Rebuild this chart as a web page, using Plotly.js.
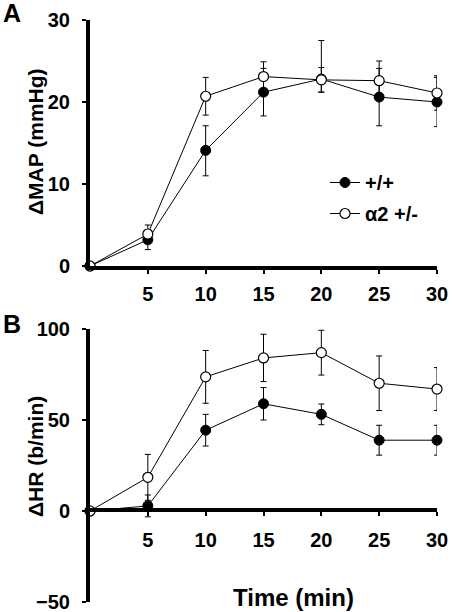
<!DOCTYPE html>
<html>
<head>
<meta charset="utf-8">
<script src="https://cdn.plot.ly/plotly-3.0.1.min.js"></script>
<style>html,body{margin:0;padding:0;background:#fff;}#chart{width:452px;height:612px;}</style>
</head>
<body>
<div id="chart"></div>
<script>
// Data
const time = [0, 5, 10, 15, 20, 25, 30];
const xTickVals = [5, 10, 15, 20, 25, 30];

// Panel A: ΔMAP (mmHg)
const mapWT = [0, 3.2, 14.1, 21.2, 22.8, 20.6, 20.0];
const mapWTErrPlus = [0, 1.2, 3.0, 2.9, 4.7, 3.5, 3.0];
const mapWTErrMinus = [0, 1.2, 3.1, 2.9, 1.6, 3.5, 3.0];
const mapHet = [0, 3.9, 20.7, 23.1, 22.7, 22.6, 21.1];
const mapHetErr = [0, 1.1, 2.3, 1.8, 1.5, 2.4, 2.1];
const mapTickVals = [0, 10, 20, 30];

// Panel B: ΔHR (b/min)
const hrWT = [0, 2.8, 44.4, 58.9, 53.1, 38.9, 38.9];
const hrWTErr = [0, 6.0, 8.7, 8.9, 5.7, 8.2, 8.2];
const hrHet = [0, 18.5, 73.7, 84.1, 87.0, 70.2, 67.0];
const hrHetErr = [0, 12.6, 14.5, 13.0, 12.3, 15.0, 11.8];
const hrTickVals = [-50, 0, 50, 100];

const seriesNames = ['+/+', '\u03b12 +/-'];

const FONT = 'Liberation Sans, Arial, Helvetica, sans-serif';
const W = 452, H = 612;
const px = v => v / W;
const py = v => 1 - v / H;

const filledMarker = {symbol: 'circle', size: 10, color: '#000', line: {color: '#000', width: 1}};
const openMarker = {symbol: 'circle', size: 10, color: '#fff', line: {color: '#000', width: 1.2}};
const lineStyle = {color: '#000', width: 1};
function err(plus, minus) {
  return {type: 'data', array: plus, arrayminus: minus || plus, symmetric: !minus,
          visible: true, color: '#000', thickness: 1, width: 3};
}

const traces = [
  {x: time, y: mapWT, xaxis: 'x', yaxis: 'y', name: seriesNames[0], mode: 'lines+markers',
   line: lineStyle, marker: filledMarker, error_y: err(mapWTErrPlus, mapWTErrMinus),
   cliponaxis: false, showlegend: true, legendgroup: 'a'},
  {x: time, y: mapHet, xaxis: 'x', yaxis: 'y', name: seriesNames[1], mode: 'lines+markers',
   line: lineStyle, marker: openMarker, error_y: err(mapHetErr),
   cliponaxis: false, showlegend: true, legendgroup: 'b'},
  {x: time, y: hrWT, xaxis: 'x2', yaxis: 'y2', name: seriesNames[0], mode: 'lines+markers',
   line: lineStyle, marker: filledMarker, error_y: err(hrWTErr),
   cliponaxis: false, showlegend: false},
  {x: time, y: hrHet, xaxis: 'x2', yaxis: 'y2', name: seriesNames[1], mode: 'lines+markers',
   line: lineStyle, marker: openMarker, error_y: err(hrHetErr),
   cliponaxis: false, showlegend: false}
];

const tickFont = {family: FONT, size: 20, color: '#000', weight: 700};
const axisCommon = {
  showline: true, linecolor: '#000', linewidth: 4, showgrid: false, zeroline: false,
  ticks: 'outside', ticklen: 4, tickwidth: 2, tickcolor: '#000', tickfont: tickFont,
  ticklabeloverflow: 'allow', fixedrange: true
};

const layout = {
  width: W, height: H,
  margin: {l: 0, r: 0, t: 0, b: 0},
  paper_bgcolor: '#fff', plot_bgcolor: 'rgba(0,0,0,0)',
  font: {family: FONT, color: '#000'},
  showlegend: true,
  legend: {
    x: px(325), y: py(163), xanchor: 'left', yanchor: 'top',
    bgcolor: 'rgba(0,0,0,0)', borderwidth: 0,
    font: {family: FONT, size: 20, color: '#000', weight: 700},
    itemwidth: 30, traceorder: 'grouped', tracegroupgap: 2
  },
  xaxis: Object.assign({}, axisCommon, {
    domain: [px(90), px(437)], range: [0, 30], anchor: 'y',
    tickmode: 'array', tickvals: xTickVals, ticklabelstandoff: 3
  }),
  yaxis: Object.assign({}, axisCommon, {
    domain: [py(266), py(20)], range: [0, 30], anchor: 'x',
    tickmode: 'array', tickvals: mapTickVals, ticklabelstandoff: 8
  }),
  xaxis2: Object.assign({}, axisCommon, {
    domain: [px(90), px(437)], range: [0, 30], anchor: 'free', position: py(510),
    tickmode: 'array', tickvals: xTickVals, ticklabelstandoff: 7
  }),
  yaxis2: Object.assign({}, axisCommon, {
    domain: [py(602), py(329)], range: [-50, 100], anchor: 'x2',
    tickmode: 'array', tickvals: hrTickVals, ticklabelstandoff: 8
  }),
  annotations: [
    {text: 'A', xref: 'paper', yref: 'paper', x: px(1), y: py(13), xanchor: 'left', yanchor: 'middle',
     showarrow: false, font: {family: FONT, size: 25, color: '#000', weight: 700}},
    {text: 'B', xref: 'paper', yref: 'paper', x: px(1), y: py(324), xanchor: 'left', yanchor: 'middle',
     showarrow: false, font: {family: FONT, size: 25, color: '#000', weight: 700}},
    {text: '\u0394MAP (mmHg)', xref: 'paper', yref: 'paper', x: px(35), y: py(142), xanchor: 'center', yanchor: 'middle',
     textangle: -90, showarrow: false, font: {family: FONT, size: 21, color: '#000', weight: 700}},
    {text: '\u0394HR (b/min)', xref: 'paper', yref: 'paper', x: px(35), y: py(457), xanchor: 'center', yanchor: 'middle',
     textangle: -90, showarrow: false, font: {family: FONT, size: 21, color: '#000', weight: 700}},
    {text: 'Time (min)', xref: 'paper', yref: 'paper', x: px(293), y: py(597), xanchor: 'center', yanchor: 'middle',
     showarrow: false, font: {family: FONT, size: 24, color: '#000', weight: 700}}
  ]
};

Plotly.newPlot('chart', traces, layout, {displayModeBar: false, staticPlot: true});
</script>
</body>
</html>
